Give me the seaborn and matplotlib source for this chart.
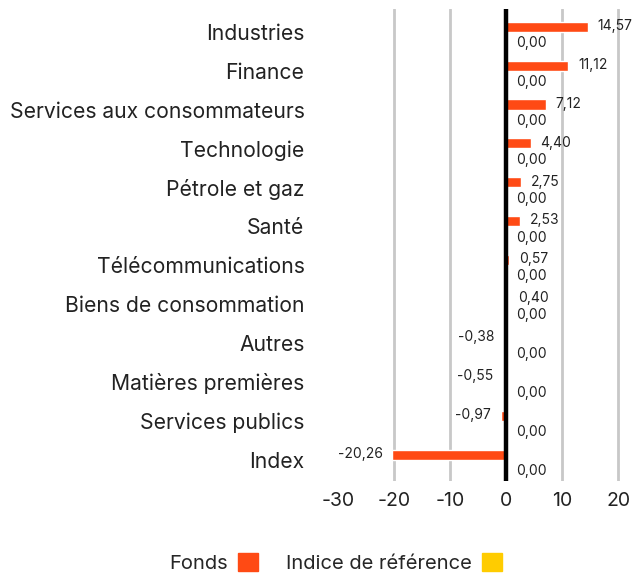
import matplotlib
matplotlib.use('Agg')
import pandas as pd
import seaborn as sns
from matplotlib import pyplot as plt
from matplotlib.patches import Patch

sectors = ["Industries", "Finance", "Services aux consommateurs", "Technologie",
           "Pétrole et gaz", "Santé", "Télécommunications", "Biens de consommation",
           "Autres", "Matières premières", "Services publics", "Index"]
fonds = [14.57, 11.12, 7.12, 4.40, 2.75, 2.53, 0.57, 0.40, -0.38, -0.55, -0.97, -20.26]
indice = [0.00] * 12
series = ["Fonds", "Indice de référence"]
colors = ["#FF4A14", "#FFCC00"]

df = pd.DataFrame({
    "Secteur": sectors * 2,
    "Valeur": fonds + indice,
    "Série": [series[0]] * len(sectors) + [series[1]] * len(sectors),
})

sns.set_style("white")
plt.rcParams['font.family'] = ['Inter', 'DejaVu Sans']
plt.rcParams['axes.unicode_minus'] = False

fig = plt.figure(figsize=(6.36, 5.74), dpi=100)
ax = fig.add_axes([0.531, 0.162, 0.463, 0.822])

for x in [-20, -10, 10, 20]:
    ax.axvline(x, color="#c8c8c8", lw=2, zorder=0)

g = sns.barplot(
    data=df, y="Secteur", x="Valeur", hue="Série",
    hue_order=series, palette=colors, orient="h",
    width=0.52, legend=False, ax=ax, saturation=1
)

ax.axvline(0, color="black", lw=3.2, zorder=5)

fmt = lambda v: f"{v:.2f}".replace('.', ',')
lab_f = ax.bar_label(ax.containers[0], fmt=fmt, padding=7, fontsize=10, color="#222222")
for t in lab_f:
    x, y = t.xyann
    t.xyann = (x, 0.5)
lab_i = ax.bar_label(ax.containers[1], labels=[fmt(v) for v in indice], padding=7,
                     fontsize=10, color="#222222")
for t in lab_i:
    t.xyann = (7, -4.5)

ax.set_xlim(-30, 22.5)
ax.set_ylim(11.55, -0.58)
ax.set_xticks([-30, -20, -10, 0, 10, 20])
ax.set_xlabel("")
ax.set_ylabel("")
ax.tick_params(axis="y", length=0, pad=24, labelsize=15.2, labelcolor="#222222")
ax.tick_params(axis="x", length=0, pad=8, labelsize=14, labelcolor="#222222")
sns.despine(ax=ax, left=True, bottom=True)

handles = [Patch(color=c) for c in colors]
fig.legend(handles, series, loc="lower center", bbox_to_anchor=(0.528, -0.03),
           ncol=2, frameon=False, markerfirst=False, fontsize=14.5,
           handlelength=1.0, handleheight=1.0, columnspacing=1.4, handletextpad=0.5)

plt.savefig("out.png", dpi=100)
